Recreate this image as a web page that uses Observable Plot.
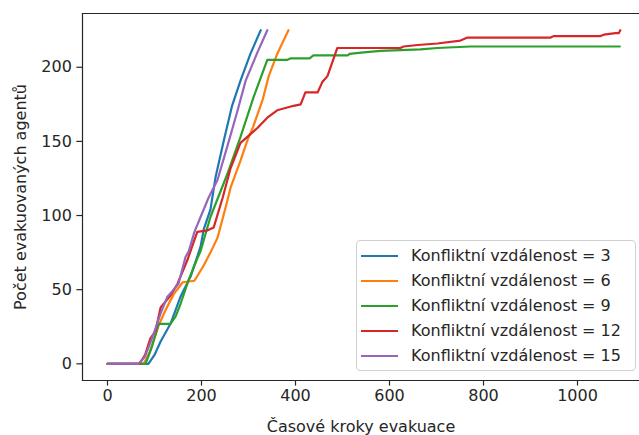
<!DOCTYPE html>
<html>
<head>
<meta charset="utf-8">
<script src="https://cdn.jsdelivr.net/npm/d3@7"></script>
<script src="https://cdn.jsdelivr.net/npm/@observablehq/plot@0.6"></script>
<style>
  body { margin: 0; background: #fff; }
  #wrap { position: relative; width: 639px; height: 435px; font-family: "DejaVu Sans", sans-serif; }
  #legend { position: absolute; left: 356px; top: 240px; width: 280px; height: 131px;
    border: 1px solid #d0d0d0; border-radius: 4px; background: rgba(255,255,255,0.85);
    box-sizing: border-box; padding-top: 2px; }
  .row { height: 25px; display: flex; align-items: center; font-size: 16px; color: #262626; }
  .sw { width: 37px; height: 0; border-top: 2.4px solid; margin-left: 4px; margin-right: 13px; }
</style>
</head>
<body>
<div id="wrap"><div id="legend"></div></div>
<script>
const seriesNames = ["Konfliktní vzdálenost = 3", "Konfliktní vzdálenost = 6", "Konfliktní vzdálenost = 9", "Konfliktní vzdálenost = 12", "Konfliktní vzdálenost = 15"];
const colors = ["#1f77b4", "#ff7f0e", "#2ca02c", "#d62728", "#9467bd"];
const xTicks = [0, 200, 400, 600, 800, 1000];
const yTicks = [0, 50, 100, 150, 200];
const xDomain = [-53.2, 1131.9];
const yDomain = [-11.25, 236.25];
const xLabel = "Časové kroky evakuace";
const yLabel = "Počet evakuovaných agentů";

// [time step, evacuated agents]
const dist3 = [[0,0],[87,0],[100,6],[113,15],[134,27],[155,45],[177,59],[198,79],[205,91],[219,104],[230,126],[247,150],[265,174],[283,191],[304,209],[326,225]];
const dist6 = [[0,0],[77,0],[90,8],[109,26],[123,36],[141,47],[160,55],[185,56],[204,66],[219,75],[234,85],[240,92],[255,110],[262,119],[283,137],[298,151],[310,160],[330,178],[343,194],[361,209],[385,225]];
const dist9 = [[0,0],[81,0],[95,12],[109,27],[134,27],[145,32],[155,40],[173,57],[191,71],[198,76],[219,99],[255,128],[283,153],[311,180],[340,205],[383,205],[390,206],[430,206],[438,208],[511,208],[515,209],[545,210],[581,211],[666,212],[702,213],[772,214],[1090,214]];
const dist12 = [[0,0],[68,0],[80,6],[91,17],[102,22],[113,38],[134,46],[149,54],[170,70],[191,89],[213,90],[226,92],[245,112],[262,132],[283,149],[294,152],[319,159],[340,166],[361,171],[396,174],[411,175],[421,183],[447,183],[457,190],[468,194],[489,213],[623,213],[630,214],[660,215],[702,216],[751,218],[766,220],[943,220],[949,221],[1049,221],[1056,222],[1081,223],[1088,223],[1091,225]];
const dist15 = [[0,0],[66,0],[80,5],[98,20],[113,34],[127,45],[138,49],[151,54],[166,72],[173,76],[185,89],[198,99],[215,112],[234,124],[258,150],[276,170],[294,191],[319,210],[340,225]];

const allSeries = [dist3, dist6, dist9, dist12, dist15];
const rows = allSeries.flatMap((s, i) => s.map(([t, v]) => ({t, v, name: seriesNames[i]})));

const ink = "#262626";
const chart = Plot.plot({
  width: 639, height: 435,
  marginLeft: 82, marginRight: 0, marginTop: 13, marginBottom: 55,
  style: {fontFamily: "DejaVu Sans", fontSize: "16px", color: ink, background: "#fff", overflow: "visible"},
  x: {domain: xDomain},
  y: {domain: yDomain},
  color: {domain: seriesNames, range: colors},
  marks: [
    Plot.line(rows, {x: "t", y: "v", z: "name", stroke: "name", strokeWidth: 2.2, curve: "linear"}),
    Plot.frame({anchor: "left", stroke: ink, strokeWidth: 1.2}),
    Plot.frame({anchor: "top", stroke: ink, strokeWidth: 1.2}),
    Plot.frame({anchor: "bottom", stroke: ink, strokeWidth: 1.2}),
    Plot.axisX({ticks: xTicks, tickFormat: d => String(d), tickSize: 5.6, tickPadding: 4, label: null, stroke: ink, strokeWidth: 1.2, fontSize: 16}),
    Plot.axisY({ticks: yTicks, tickFormat: d => String(d), tickSize: 5.6, tickPadding: 5, label: null, stroke: ink, strokeWidth: 1.2, fontSize: 16}),
    Plot.text([xLabel], {frameAnchor: "bottom", dy: 46, text: d => d, fontSize: 16, fill: ink, textAnchor: "middle", lineAnchor: "middle"}),
    Plot.text([yLabel], {frameAnchor: "left", dx: -62, rotate: -90, text: d => d, fontSize: 16, fill: ink, textAnchor: "middle", lineAnchor: "middle"})
  ]
});
const wrap = document.getElementById("wrap");
wrap.insertBefore(chart, wrap.firstChild);

const legend = document.getElementById("legend");
seriesNames.forEach((n, i) => {
  const r = document.createElement("div");
  r.className = "row";
  const sw = document.createElement("div");
  sw.className = "sw";
  sw.style.borderTopColor = colors[i];
  const lab = document.createElement("span");
  lab.textContent = n;
  r.appendChild(sw); r.appendChild(lab);
  legend.appendChild(r);
});
</script>
</body>
</html>
